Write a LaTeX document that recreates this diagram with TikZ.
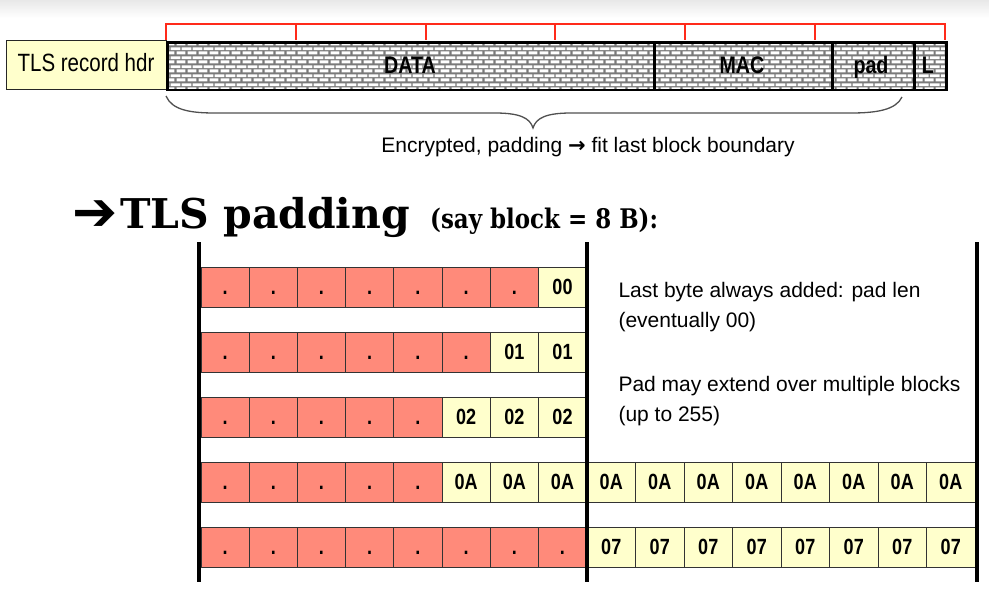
\documentclass[tikz,border=0pt]{standalone}
\usepackage{fontspec}
\setmainfont{Liberation Sans}
\newfontfamily\narrowfont[FakeStretch=0.82]{Liberation Sans}
\newfontfamily\titlefont{DejaVu Serif}
\newfontfamily\titlenarrow[FakeStretch=0.85]{DejaVu Serif}
\newfontfamily\symfont{DejaVu Sans}
\usetikzlibrary{patterns}
\pgfdeclarepatternformonly{brickwall}{\pgfpoint{0pt}{0pt}}{\pgfpoint{11pt}{8.6pt}}{\pgfpoint{11pt}{8.6pt}}{%
  \pgfpathrectangle{\pgfpoint{0.7pt}{0.65pt}}{\pgfpoint{9.6pt}{3pt}}%
  \pgfpathrectangle{\pgfpoint{-4.8pt}{4.95pt}}{\pgfpoint{9.6pt}{3pt}}%
  \pgfpathrectangle{\pgfpoint{6.2pt}{4.95pt}}{\pgfpoint{9.6pt}{3pt}}%
  \pgfusepath{fill}}
\definecolor{cellred}{HTML}{FF8A7A}
\definecolor{cellyel}{HTML}{FFFFCC}
\definecolor{mortar}{HTML}{7A7A7A}
\definecolor{bracered}{HTML}{FF2A1A}
\definecolor{bracegray}{HTML}{505050}
\tikzset{
  hdrbox/.style={draw=black!85, fill=cellyel, line width=1.2, inner sep=0, anchor=north west},
  brickbox/.style={draw=black, line width=2.6, preaction={fill=mortar}, pattern=brickwall, pattern color=white, inner sep=0, anchor=north west, minimum height=47.5},
  boxlabel/.style={anchor=base, font=\narrowfont\bfseries\fontsize{24}{28}\selectfont},
  basecell/.style={draw=black!80, line width=0.9, minimum height=40, inner sep=0, text height=15, text depth=0, font=\narrowfont\bfseries\fontsize{22}{26}\selectfont},
  rcell/.style={basecell, fill=cellred},
  ycell/.style={basecell, fill=cellyel},
  vbar/.style={line width=4.5, black},
  bodytext/.style={anchor=base west, font=\fontsize{21}{25}\selectfont},
}
\begin{document}
\begin{tikzpicture}[x=1pt,y=-1pt]
\useasboundingbox (0,0) rectangle (989,598);
\shade[top color=black!9, bottom color=white] (0,0) rectangle (989,18);

% record header and encrypted part
\node[hdrbox, minimum width=160, minimum height=49] (hdr) at (6,40) {};
\node[anchor=base, font=\narrowfont\fontsize{25}{29}\selectfont] (hdrtxt) at (86,71) {TLS record hdr};
\node[brickbox, minimum width=487] (data) at (166,41) {};
\node[brickbox, minimum width=178] (mac) at (653,41) {};
\node[brickbox, minimum width=82] (pad) at (831,41) {};
\node[brickbox, minimum width=32] (len) at (913,41) {};
\node[boxlabel] (datatxt) at (410,73) {DATA};
\node[boxlabel] (mactxt) at (742,73) {MAC};
\node[boxlabel] (padtxt) at (871,73) {pad};
\node[boxlabel] (lentxt) at (928,73) {L};

% red block bracket
\coordinate (bk0) at (166,40);
\coordinate (bk6) at (945,40);
\draw[bracered, line width=2] (bk0) -- ++(0,-16) -| (bk6);
\foreach \k in {1,...,5} {
  \coordinate (bt\k) at ({166+129.83*\k},24);
  \draw[bracered, line width=2] (bt\k) -- ++(0,16);
}

% curly brace
\coordinate (brL) at (166,96);
\coordinate (brM) at (533,128);
\coordinate (brR) at (902,97);
\draw[bracegray, line width=1.3] (brL) .. controls (172,110) and (190,113) .. (215,113) -- (495,113)
  .. controls (520,113) and (530,118) .. (brM)
  .. controls (536,118) and (546,113) .. (571,113) -- (851,113)
  .. controls (876,113) and (896,110) .. (brR);
\node[anchor=base, font=\fontsize{21}{25}\selectfont] (enc) at (588,152) {Encrypted, padding {\symfont\bfseries →} fit last block boundary};

% title
\node[anchor=base west, inner sep=0, font=\symfont\fontsize{54}{60}\selectfont] (tarrow) at (72,230) {➔};
\node[anchor=base west, inner sep=0, font=\titlefont\bfseries\fontsize{41}{48}\selectfont] (title) at (120,228) {TLS padding};
\node[anchor=base west, inner sep=0, font=\titlenarrow\bfseries\fontsize{27}{32}\selectfont] (sub) at (430,228) {(say block = 8 B):};

% cells
\foreach \r/\nred/\lab in {1/7/00,2/6/01,3/5/02,4/5/0A,5/8/07} {
  \foreach \i in {1,...,8} {
    \pgfmathsetmacro\cx{201+48.2*(\i-1)+24.1}
    \pgfmathsetmacro\cy{267+65*(\r-1)+20}
    \ifnum\i>\nred
      \node[ycell, minimum width=48.2] (c\r-\i) at (\cx,\cy) {\lab};
    \else
      \node[rcell, minimum width=48.2] (c\r-\i) at (\cx,\cy) {.};
    \fi
  }
}
\foreach \r/\lab in {4/0A,5/07} {
  \foreach \i in {9,...,16} {
    \pgfmathsetmacro\cx{587+48.5*(\i-9)+24.25}
    \pgfmathsetmacro\cy{267+65*(\r-1)+20}
    \node[ycell, minimum width=48.5] (c\r-\i) at (\cx,\cy) {\lab};
  }
}

% vertical bars
\coordinate (v1t) at (199,242); \coordinate (v1b) at (199,582);
\coordinate (v2t) at (587,242); \coordinate (v2b) at (587,582);
\coordinate (v3t) at (977,242); \coordinate (v3b) at (977,582);
\draw[vbar] (v1t) -- (v1b);
\draw[vbar] (v2t) -- (v2b);
\draw[vbar] (v3t) -- (v3b);

% explanatory text
\node[bodytext] (t1) at (615,297) {Last byte always added: pad len};
\node[bodytext] (t2) at (615,327) {(eventually 00)};
\node[bodytext] (t3) at (615,391) {Pad may extend over multiple blocks};
\node[bodytext] (t4) at (615,421) {(up to 255)};
\end{tikzpicture}
\end{document}
